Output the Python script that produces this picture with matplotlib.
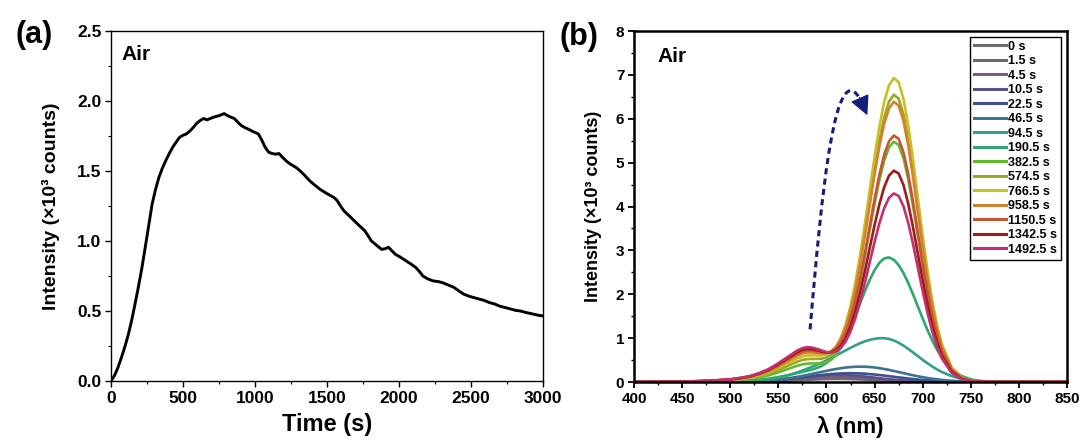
import matplotlib
matplotlib.use("Agg")
import matplotlib.pyplot as plt
from matplotlib.path import Path
from matplotlib.patches import FancyArrowPatch, PathPatch
from matplotlib.ticker import MultipleLocator, FormatStrFormatter

plt.rcParams['font.family'] = ['Liberation Sans', 'DejaVu Sans']
plt.rcParams['font.weight'] = 'bold'

# ---------------- Panel (a): intensity vs time ----------------
time_s = [0, 25, 48, 70, 95, 120, 143, 165, 190, 215,
          238, 262, 286, 310, 333, 357, 381, 405, 429, 452,
          476, 500, 524, 548, 571, 595, 619, 643, 667, 690,
          714, 750, 786, 820, 857, 880, 905, 930, 952, 990,
          1024, 1048, 1071, 1095, 1119, 1143, 1167, 1190, 1214, 1238,
          1262, 1286, 1310, 1345, 1381, 1415, 1452, 1490, 1524, 1550,
          1571, 1595, 1619, 1655, 1690, 1725, 1762, 1785, 1810, 1845,
          1881, 1905, 1929, 1952, 1976, 2010, 2048, 2085, 2119, 2145,
          2167, 2200, 2238, 2275, 2310, 2345, 2381, 2415, 2452, 2490,
          2524, 2560, 2595, 2630, 2667, 2700, 2738, 2775, 2810, 2845,
          2881, 2925, 2967, 3000]
intensity_a = [0, 0.04, 0.095, 0.16, 0.24, 0.33, 0.43, 0.54, 0.67, 0.81,
               0.955, 1.11, 1.265, 1.37, 1.455, 1.52, 1.575, 1.625, 1.67, 1.705,
               1.74, 1.755, 1.765, 1.785, 1.81, 1.84, 1.86, 1.875, 1.865, 1.875,
               1.885, 1.895, 1.91, 1.89, 1.875, 1.85, 1.825, 1.81, 1.80, 1.78,
               1.765, 1.72, 1.67, 1.635, 1.625, 1.62, 1.625, 1.60, 1.575, 1.555,
               1.54, 1.525, 1.505, 1.47, 1.43, 1.40, 1.37, 1.345, 1.325, 1.31,
               1.29, 1.25, 1.215, 1.18, 1.145, 1.11, 1.075, 1.04, 1.00, 0.97,
               0.94, 0.945, 0.955, 0.93, 0.905, 0.885, 0.86, 0.835, 0.81, 0.78,
               0.75, 0.73, 0.715, 0.71, 0.70, 0.685, 0.67, 0.645, 0.62, 0.605,
               0.595, 0.585, 0.575, 0.56, 0.55, 0.535, 0.525, 0.515, 0.505, 0.50,
               0.49, 0.48, 0.47, 0.465]

# ---------------- Panel (b): spectra ----------------
wavelength = [400, 450, 480, 500, 510, 520, 530, 540, 550, 560, 570,
              575, 580, 585, 590, 595, 600, 605, 610, 615, 620,
              625, 630, 635, 640, 645, 650, 655, 660, 665, 670,
              675, 680, 685, 690, 695, 700, 705, 710, 715, 720,
              730, 740, 750, 760, 780, 800, 850]

spec_0 = [0, 0, 0.0005, 0.002, 0.003, 0.006, 0.010, 0.015, 0.023, 0.032, 0.041,
          0.046, 0.051, 0.056, 0.060, 0.064, 0.067, 0.069, 0.070, 0.070, 0.069,
          0.067, 0.063, 0.059, 0.054, 0.049, 0.044, 0.038, 0.033, 0.027, 0.023,
          0.018, 0.015, 0.012, 0.009, 0.007, 0.005, 0.004, 0.003, 0.002, 0.001,
          0.001, 0, 0, 0, 0, 0, 0]
spec_1p5 = [0, 0, 0.001, 0.003, 0.005, 0.009, 0.014, 0.022, 0.033, 0.045, 0.059,
            0.066, 0.073, 0.080, 0.086, 0.091, 0.095, 0.098, 0.100, 0.100, 0.098,
            0.095, 0.091, 0.085, 0.078, 0.070, 0.062, 0.054, 0.047, 0.039, 0.033,
            0.026, 0.021, 0.017, 0.013, 0.010, 0.007, 0.005, 0.004, 0.003, 0.002,
            0.001, 0, 0, 0, 0, 0, 0]
spec_4p5 = [0, 0, 0.001, 0.004, 0.006, 0.011, 0.018, 0.029, 0.042, 0.059, 0.077,
            0.086, 0.095, 0.104, 0.112, 0.119, 0.124, 0.128, 0.130, 0.130, 0.128,
            0.124, 0.118, 0.110, 0.101, 0.091, 0.081, 0.071, 0.060, 0.051, 0.042,
            0.034, 0.027, 0.022, 0.017, 0.013, 0.009, 0.007, 0.005, 0.004, 0.002,
            0.001, 0.001, 0, 0, 0, 0, 0]
spec_10p5 = [0, 0, 0.001, 0.004, 0.008, 0.014, 0.023, 0.035, 0.052, 0.072, 0.095,
             0.106, 0.117, 0.128, 0.138, 0.146, 0.152, 0.157, 0.160, 0.160, 0.157,
             0.152, 0.145, 0.135, 0.124, 0.112, 0.100, 0.087, 0.074, 0.063, 0.052,
             0.042, 0.034, 0.027, 0.020, 0.016, 0.012, 0.008, 0.006, 0.004, 0.003,
             0.001, 0.001, 0, 0, 0, 0, 0]
spec_22p5 = [0, 0, 0.001, 0.004, 0.008, 0.013, 0.022, 0.034, 0.050, 0.070, 0.095,
             0.108, 0.121, 0.135, 0.148, 0.160, 0.171, 0.181, 0.189, 0.195, 0.199,
             0.200, 0.199, 0.195, 0.189, 0.180, 0.170, 0.159, 0.146, 0.132, 0.119,
             0.105, 0.092, 0.079, 0.067, 0.056, 0.047, 0.038, 0.031, 0.025, 0.019,
             0.012, 0.007, 0.004, 0.002, 0, 0, 0]
spec_46p5 = [0, 0, 0.001, 0.004, 0.007, 0.013, 0.022, 0.036, 0.056, 0.084, 0.119,
             0.140, 0.161, 0.184, 0.208, 0.231, 0.254, 0.276, 0.296, 0.314, 0.329,
             0.340, 0.347, 0.350, 0.348, 0.342, 0.331, 0.316, 0.297, 0.276, 0.252,
             0.227, 0.202, 0.177, 0.153, 0.130, 0.110, 0.091, 0.074, 0.060, 0.047,
             0.029, 0.016, 0.009, 0.004, 0.001, 0, 0]
spec_94p5 = [0, 0.001, 0.003, 0.008, 0.015, 0.023, 0.039, 0.062, 0.100, 0.152, 0.222,
             0.261, 0.303, 0.346, 0.392, 0.440, 0.492, 0.547, 0.603, 0.662, 0.721,
             0.779, 0.834, 0.884, 0.927, 0.961, 0.985, 0.998, 0.999, 0.981, 0.946,
             0.895, 0.830, 0.755, 0.674, 0.590, 0.506, 0.427, 0.352, 0.286, 0.227,
             0.135, 0.075, 0.038, 0.018, 0.003, 0, 0]
spec_190p5 = [0, 0.002, 0.008, 0.016, 0.024, 0.034, 0.052, 0.077, 0.112, 0.155, 0.205,
              0.231, 0.256, 0.283, 0.318, 0.365, 0.433, 0.527, 0.655, 0.819, 1.020,
              1.257, 1.519, 1.796, 2.072, 2.330, 2.551, 2.717, 2.816, 2.840, 2.787,
              2.667, 2.485, 2.258, 1.998, 1.722, 1.447, 1.184, 0.945, 0.734, 0.555,
              0.295, 0.141, 0.061, 0.024, 0.003, 0, 0]
spec_382p5 = [0, 0.004, 0.016, 0.032, 0.048, 0.068, 0.104, 0.152, 0.220, 0.296, 0.373,
              0.402, 0.419, 0.423, 0.424, 0.430, 0.454, 0.509, 0.613, 0.780, 1.025,
              1.358, 1.780, 2.285, 2.855, 3.459, 4.057, 4.602, 5.045, 5.347, 5.476,
              5.404, 5.108, 4.623, 4.006, 3.324, 2.641, 2.009, 1.463, 1.020, 0.682,
              0.267, 0.088, 0.024, 0.005, 0, 0, 0]
spec_574p5 = [0, 0.005, 0.020, 0.040, 0.060, 0.085, 0.130, 0.190, 0.275, 0.370, 0.466,
              0.502, 0.522, 0.527, 0.527, 0.532, 0.558, 0.621, 0.742, 0.940, 1.231,
              1.627, 2.131, 2.734, 3.414, 4.136, 4.849, 5.500, 6.031, 6.392, 6.546,
              6.460, 6.105, 5.526, 4.788, 3.973, 3.156, 2.401, 1.749, 1.220, 0.815,
              0.319, 0.105, 0.029, 0.007, 0, 0, 0]
spec_766p5 = [0, 0.006, 0.023, 0.046, 0.070, 0.099, 0.151, 0.220, 0.319, 0.429, 0.540,
              0.580, 0.604, 0.607, 0.604, 0.605, 0.626, 0.687, 0.809, 1.013, 1.315,
              1.731, 2.261, 2.896, 3.615, 4.377, 5.131, 5.820, 6.381, 6.763, 6.926,
              6.834, 6.459, 5.846, 5.066, 4.203, 3.340, 2.541, 1.850, 1.290, 0.862,
              0.337, 0.111, 0.030, 0.007, 0, 0, 0]
spec_958p5 = [0, 0.007, 0.026, 0.052, 0.078, 0.111, 0.169, 0.247, 0.358, 0.481, 0.604,
              0.649, 0.672, 0.671, 0.661, 0.651, 0.658, 0.700, 0.800, 0.975, 1.244,
              1.617, 2.098, 2.680, 3.339, 4.039, 4.734, 5.368, 5.884, 6.236, 6.386,
              6.302, 5.956, 5.391, 4.671, 3.876, 3.079, 2.343, 1.706, 1.190, 0.795,
              0.311, 0.102, 0.028, 0.006, 0, 0, 0]
spec_1150p5 = [0, 0.007, 0.028, 0.056, 0.084, 0.119, 0.182, 0.266, 0.385, 0.518, 0.649,
               0.696, 0.719, 0.715, 0.698, 0.678, 0.669, 0.690, 0.763, 0.903, 1.127,
               1.446, 1.862, 2.367, 2.943, 3.557, 4.166, 4.722, 5.176, 5.485, 5.617,
               5.542, 5.238, 4.741, 4.108, 3.409, 2.708, 2.060, 1.501, 1.046, 0.699,
               0.274, 0.090, 0.025, 0.006, 0, 0, 0]
spec_1342p5 = [0, 0.007, 0.030, 0.059, 0.089, 0.126, 0.192, 0.281, 0.407, 0.548, 0.685,
               0.734, 0.756, 0.749, 0.726, 0.695, 0.672, 0.674, 0.718, 0.824, 1.003,
               1.265, 1.615, 2.042, 2.531, 3.055, 3.575, 4.051, 4.440, 4.704, 4.817,
               4.753, 4.493, 4.066, 3.523, 2.923, 2.323, 1.767, 1.287, 0.897, 0.600,
               0.235, 0.077, 0.021, 0.005, 0, 0, 0]
spec_1492p5 = [0, 0.008, 0.031, 0.062, 0.094, 0.133, 0.203, 0.296, 0.429, 0.577, 0.722,
               0.772, 0.795, 0.784, 0.756, 0.718, 0.683, 0.671, 0.697, 0.778, 0.926,
               1.151, 1.456, 1.831, 2.264, 2.729, 3.192, 3.616, 3.961, 4.197, 4.297,
               4.241, 4.008, 3.627, 3.143, 2.608, 2.072, 1.576, 1.148, 0.801, 0.535,
               0.209, 0.069, 0.019, 0.004, 0, 0, 0]

series_labels = ['0 s', '1.5 s', '4.5 s', '10.5 s', '22.5 s', '46.5 s', '94.5 s',
                 '190.5 s', '382.5 s', '574.5 s', '766.5 s', '958.5 s',
                 '1150.5 s', '1342.5 s', '1492.5 s']
series_values = [spec_0, spec_1p5, spec_4p5, spec_10p5, spec_22p5, spec_46p5,
                 spec_94p5, spec_190p5, spec_382p5, spec_574p5, spec_766p5,
                 spec_958p5, spec_1150p5, spec_1342p5, spec_1492p5]
series_colors = ['#6c6c6c', '#76636f', '#7b5a88', '#5a5184', '#40508f', '#3b7391',
                 '#2fa08f', '#2fa86a', '#62ba34', '#98aa22', '#c9bf22', '#d28232',
                 '#c95430', '#a0191b', '#c1306f']

W, H = 1084, 442
fig = plt.figure(figsize=(W / 100, H / 100), dpi=100)

# axes placement (pixels -> fractions)
a_l, a_r, a_t, a_b = 111, 542.7, 31, 381
b_l, b_r, b_t, b_b = 634, 1067, 31, 382
ax1 = fig.add_axes([a_l / W, 1 - a_b / H, (a_r - a_l) / W, (a_b - a_t) / H])
ax2 = fig.add_axes([b_l / W, 1 - b_b / H, (b_r - b_l) / W, (b_b - b_t) / H])

# ---- panel a ----
ax1.plot(time_s, intensity_a, color='black', lw=2.1, solid_joinstyle='round')
ax1.set_xlim(0, 3000)
ax1.set_ylim(0, 2.5)
ax1.xaxis.set_major_locator(MultipleLocator(500))
ax1.xaxis.set_minor_locator(MultipleLocator(250))
ax1.yaxis.set_major_locator(MultipleLocator(0.5))
ax1.yaxis.set_minor_locator(MultipleLocator(0.25))
ax1.yaxis.set_major_formatter(FormatStrFormatter('%.1f'))
ax1.tick_params(which='major', direction='out', length=4, width=1, labelsize=12.5, pad=3)
ax1.tick_params(which='minor', direction='out', length=2.5, width=0.8)
for sp in ax1.spines.values():
    sp.set_linewidth(1.0)
for lab in ax1.get_xticklabels() + ax1.get_yticklabels():
    lab.set_fontweight('bold')
ax1.set_xlabel('Time (s)', fontsize=17, fontweight='bold')
ax1.set_ylabel('Intensity (×10³ counts)', fontsize=14, fontweight='bold')
ax1.xaxis.set_label_coords(0.5, (a_b - 425) / (a_b - a_t))
ax1.xaxis.label.set_va('center')
ax1.yaxis.set_label_coords((51 - a_l) / (a_r - a_l), 0.5)
ax1.yaxis.label.set_va('center')
ax1.text((121 - a_l) / (a_r - a_l), (a_b - 54) / (a_b - a_t), 'Air',
         transform=ax1.transAxes, fontsize=15, fontweight='bold', ha='left', va='center')

# ---- panel b ----
for lab, vals, col in zip(series_labels, series_values, series_colors):
    ax2.plot(wavelength, vals, color=col, lw=1.9, label=lab, solid_joinstyle='round')
ax2.set_xlim(400, 850)
ax2.set_ylim(0, 8)
ax2.xaxis.set_major_locator(MultipleLocator(50))
ax2.xaxis.set_minor_locator(MultipleLocator(25))
ax2.yaxis.set_major_locator(MultipleLocator(1))
ax2.yaxis.set_minor_locator(MultipleLocator(0.5))
ax2.tick_params(which='major', direction='out', length=4, width=1.3, labelsize=11, pad=3)
ax2.tick_params(which='minor', direction='out', length=2.5, width=1.0)
for sp in ax2.spines.values():
    sp.set_linewidth(1.8)
for lab in ax2.get_xticklabels() + ax2.get_yticklabels():
    lab.set_fontweight('bold')
ax2.set_xlabel('λ (nm)', fontsize=16, fontweight='bold')
ax2.set_ylabel('Intensity (×10³ counts)', fontsize=13, fontweight='bold')
ax2.xaxis.set_label_coords(0.5, (b_b - 427) / (b_b - b_t))
ax2.xaxis.label.set_va('center')
ax2.yaxis.set_label_coords((593 - b_l) / (b_r - b_l), 0.5)
ax2.yaxis.label.set_va('center')
ax2.text((657 - b_l) / (b_r - b_l), (b_b - 56) / (b_b - b_t), 'Air',
         transform=ax2.transAxes, fontsize=15, fontweight='bold', ha='left', va='center')

leg = ax2.legend(loc='upper right',
                 bbox_to_anchor=(1 - 6 / (b_r - b_l), 1 - 6 / (b_b - b_t)),
                 borderaxespad=0, prop={'weight': 'bold', 'size': 9},
                 frameon=True, fancybox=False, framealpha=1, edgecolor='black',
                 handlelength=2.6, handletextpad=0.15, labelspacing=0.2,
                 borderpad=0.3)
leg.get_frame().set_linewidth(1.0)
for h in leg.get_lines():
    h.set_linewidth(2.2)

# dashed curved arrow (annotation)
arrow_color = '#141d7a'
curve = Path([(583, 1.2), (595, 4.3), (609, 7.6), (636.5, 6.38)],
             [Path.MOVETO, Path.CURVE4, Path.CURVE4, Path.CURVE4])
ax2.add_patch(PathPatch(curve, facecolor='none', edgecolor=arrow_color, lw=2.2,
                        linestyle=(0, (2.0, 1.4)), transform=ax2.transData))
ax2.add_patch(FancyArrowPatch((634.5, 6.48), (642.5, 6.08), transform=ax2.transData,
                              arrowstyle='-|>,head_length=0.75,head_width=0.38',
                              mutation_scale=16, color=arrow_color, lw=1.0,
                              shrinkA=0, shrinkB=0))

# panel letters
fig.text(34 / W, 1 - 35 / H, '(a)', fontsize=22, fontweight='bold', ha='center', va='center')
fig.text(579 / W, 1 - 37 / H, '(b)', fontsize=22, fontweight='bold', ha='center', va='center')

fig.savefig('out.png', dpi=100)
